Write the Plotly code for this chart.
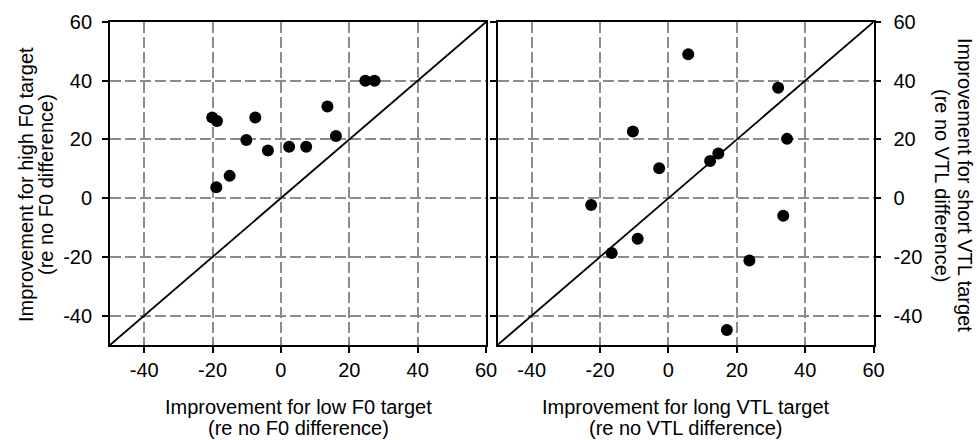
import plotly.graph_objects as go

# Improvement scores (percentage points) relative to the no-difference condition
f0_low = [-20.1, -18.7, -18.9, -15.0, -10.1, -7.5, -3.8, 2.4, 7.4, 13.6, 16.1, 24.7, 27.4]
f0_high = [27.5, 26.3, 3.7, 7.6, 19.8, 27.5, 16.2, 17.5, 17.5, 31.2, 21.2, 40.0, 40.0]

vtl_long = [5.8, 32.1, -10.4, 34.7, 14.6, 12.2, -2.7, -22.6, -9.0, -16.6, 33.6, 23.7, 17.1]
vtl_short = [49.0, 37.6, 22.7, 20.2, 15.2, 12.7, 10.2, -2.3, -13.8, -18.7, -6.0, -21.2, -44.9]

axis_range = [-50, 60]
tick_vals = [-40, -20, 0, 20, 40, 60]
identity = [-50, 60]

# Axis titles, one entry per line
x1_title = ["Improvement for low F0 target", "(re no F0 difference)"]
y1_title = ["Improvement for high F0 target", "(re no F0 difference)"]
x2_title = ["Improvement for long VTL target", "(re no VTL difference)"]
y2_title = ["Improvement for short VTL target", "(re no VTL difference)"]

FONT = "Liberation Sans, Arial, sans-serif"
W, H = 977, 440

fig = go.Figure()

# Equal-improvement reference lines
for xa, ya in (("x", "y"), ("x2", "y2")):
    fig.add_trace(go.Scatter(x=identity, y=identity, mode="lines",
                             line=dict(color="black", width=1.8),
                             xaxis=xa, yaxis=ya, showlegend=False, hoverinfo="skip"))

# Individual listeners
fig.add_trace(go.Scatter(x=f0_low, y=f0_high, mode="markers",
                         marker=dict(color="black", size=12),
                         xaxis="x", yaxis="y", showlegend=False))
fig.add_trace(go.Scatter(x=vtl_long, y=vtl_short, mode="markers",
                         marker=dict(color="black", size=12),
                         xaxis="x2", yaxis="y2", showlegend=False))

common = dict(
    range=axis_range, tickvals=tick_vals, ticktext=[str(v) for v in tick_vals],
    showgrid=True, gridcolor="#8c8c8c", gridwidth=1.5, griddash="11px,4px",
    zeroline=False, showline=True, linecolor="black", linewidth=1.8,
    ticks="outside", ticklen=6, tickwidth=1.5, tickcolor="black",
    tickfont=dict(family=FONT, size=20, color="black"),
    automargin=False,
)

x1_dom = [110 / W, 486 / W]
x2_dom = [497.5 / W, 873.5 / W]
y_dom = [1 - 345 / H, 1 - 22 / H]


def title_line(text, x_px, y_px, angle=0):
    return dict(text=text, textangle=angle, xref="paper", yref="paper",
                x=x_px / W, y=1 - y_px / H, showarrow=False,
                xanchor="center", yanchor="middle",
                font=dict(family=FONT, size=20, color="black"))


x1_mid = (x1_dom[0] + x1_dom[1]) / 2 * W
x2_mid = (x2_dom[0] + x2_dom[1]) / 2 * W
y_mid = 185

annotations = [
    title_line(x1_title[0], x1_mid, 407),
    title_line(x1_title[1], x1_mid, 428),
    title_line(x2_title[0], x2_mid, 407),
    title_line(x2_title[1], x2_mid, 428),
    title_line(y1_title[0], 26, y_mid, -90),
    title_line(y1_title[1], 46, y_mid, -90),
    title_line(y2_title[0], 965, y_mid, 90),
    title_line(y2_title[1], 942, y_mid, 90),
]

fig.update_layout(
    width=W, height=H,
    margin=dict(l=0, r=0, t=0, b=0),
    paper_bgcolor="white", plot_bgcolor="white",
    font=dict(family=FONT, size=20, color="black"),
    xaxis=dict(common, domain=x1_dom, anchor="y", mirror=True),
    yaxis=dict(common, domain=y_dom, anchor="x", mirror=True, ticklabelstandoff=6),
    xaxis2=dict(common, domain=x2_dom, anchor="y2", mirror=True),
    yaxis2=dict(common, domain=y_dom, anchor="x2", side="right", mirror="ticks",
                ticklabelstandoff=8),
    annotations=annotations,
)

fig.write_html("out.html")
